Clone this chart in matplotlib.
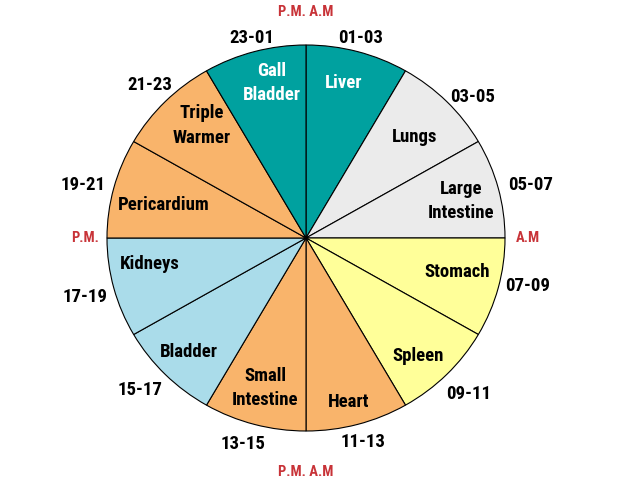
import numpy as np
import matplotlib
matplotlib.use("Agg")
import matplotlib.pyplot as plt

plt.rcParams['font.family'] = ['Roboto Condensed', 'Liberation Sans', 'DejaVu Sans']

# organ clock, clockwise from the top (2-hour periods)
organs = ['Liver', 'Lungs', 'Large\nIntestine', 'Stomach', 'Spleen', 'Heart',
          'Small\nIntestine', 'Bladder', 'Kidneys', 'Pericardium',
          'Triple\nWarmer', 'Gall\nBladder']
hours = ['01-03', '03-05', '05-07', '07-09', '09-11', '11-13',
         '13-15', '15-17', '17-19', '19-21', '21-23', '23-01']
sizes = [2] * 12

teal, grey, yellow, orange, blue = '#00A19F', '#EBEBEB', '#FFFF99', '#F9B46B', '#AADCEA'
colors = [teal, grey, grey, yellow, yellow, orange,
          orange, blue, blue, orange, orange, teal]
text_colors = ['white'] + ['black'] * 10 + ['white']

# label layout: angle shift from slice middle (deg) and radius
inner_da = [1.6, -1.1, -1.2, 1.9, -2.3, -1.0, 0.2, 0.2, -5.2, 1.5, -3.1, -3.0]
inner_r = [0.826, 0.754, 0.802, 0.779, 0.831, 0.876, 0.804, 0.834, 0.795, 0.734, 0.783, 0.821]
outer_da = [0.3, -3.9, -1.3, 2.4, 0.4, 0.1, -1.5, -1.6, 0.4, 1.2, -0.3, -0.3]
outer_r = [1.071, 1.113, 1.159, 1.143, 1.151, 1.095, 1.113, 1.147, 1.152, 1.154, 1.115, 1.071]
line_sp = [1.4] * 10 + [1.55, 1.4]

W, H = 632, 486
cx, cy, rx, ry = 306, 238, 199, 193

fig = plt.figure(figsize=(W / 100, H / 100), dpi=100)
ax = fig.add_axes([0, 0, 1, 1])
wedges, _ = ax.pie(sizes, colors=colors, startangle=90, counterclock=False,
                   wedgeprops=dict(edgecolor='black', linewidth=0.8))
ax.set_aspect('auto')
ax.set_xlim(-cx / rx, (W - cx) / rx)
ax.set_ylim(-(H - cy) / ry, cy / ry)
ax.axis('off')

for i, w in enumerate(wedges):
    mid = (w.theta1 + w.theta2) / 2
    a = np.deg2rad(mid + inner_da[i])
    ax.text(inner_r[i] * np.cos(a), inner_r[i] * np.sin(a), organs[i], ha='center', va='center',
            fontsize=13.5, fontweight='bold', color=text_colors[i], linespacing=line_sp[i])
    a = np.deg2rad(mid + outer_da[i])
    ax.text(outer_r[i] * np.cos(a), outer_r[i] * np.sin(a), hours[i], ha='center', va='center',
            fontsize=13.5, fontweight='bold', color='black')

red = '#C83338'
ax.text(0, 1.17, 'P.M. A.M', ha='center', va='center', fontsize=10.5, fontweight='bold', color=red)
ax.text(0, -1.21, 'P.M. A.M', ha='center', va='center', fontsize=10.5, fontweight='bold', color=red)
ax.text(-1.11, 0, 'P.M.', ha='center', va='center', fontsize=10.5, fontweight='bold', color=red)
ax.text(1.115, 0, 'A.M', ha='center', va='center', fontsize=10.5, fontweight='bold', color=red)

fig.savefig('out.png', dpi=100)
